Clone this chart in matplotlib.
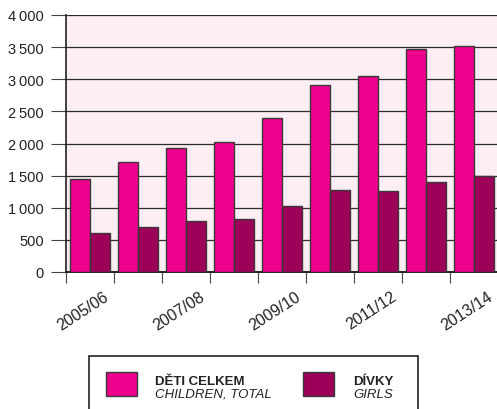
import numpy as np
import matplotlib
matplotlib.use("Agg")
import matplotlib.pyplot as plt
from matplotlib.patches import Rectangle

plt.rcParams['font.family'] = ['Liberation Sans', 'DejaVu Sans']

years = ["2005/06", "2006/07", "2007/08", "2008/09", "2009/10",
         "2010/11", "2011/12", "2012/13", "2013/14"]
children_total = [1440, 1712, 1925, 2023, 2402, 2916, 3050, 3476, 3512]
girls = [612, 700, 789, 820, 1027, 1271, 1266, 1406, 1489]

yticks = [0, 500, 1000, 1500, 2000, 2500, 3000, 3500, 4000]
ytick_labels = ["0", "500", "1\u2009000", "1\u2009500", "2\u2009000",
                "2\u2009500", "3\u2009000", "3\u2009500", "4\u2009000"]

PINK = "#EC008C"
PLUM = "#9C0058"
BG = "#FDEEF4"
EDGE = "#3a3a3a"

W, H = 497, 410
fig = plt.figure(figsize=(W / 100, H / 100), dpi=100)
ax = fig.add_axes([66 / W, 1 - 273 / H, 432 / W, 257 / H])
ax.set_facecolor(BG)

x = np.arange(len(years))
bw = 20 / 48
ax.bar(x - bw / 2, children_total, bw, color=PINK, edgecolor=EDGE, linewidth=1, zorder=3)
ax.bar(x + bw / 2, girls, bw, color=PLUM, edgecolor=EDGE, linewidth=1, zorder=3)

ax.set_xlim(-0.5, len(years) - 0.5)
ax.set_ylim(0, 4000)
ax.set_yticks(yticks)
ax.set_yticklabels(ytick_labels, fontsize=10.5, color="#222222")
ax.yaxis.grid(True, color="#2a2a2a", linewidth=0.9, zorder=1)
ax.set_axisbelow(True)

# category boundaries get the tick marks, labels sit under every other group
ax.set_xticks(np.arange(len(years)) - 0.5, minor=True)
ax.tick_params(axis='x', which='minor', length=8, width=0.8, color="#444444")
ax.set_xticks(x[::2] + 0.28)
ax.set_xticklabels(years[::2], rotation=33, ha='right', va='top',
                   rotation_mode='anchor', fontsize=11.5, color="#222222")
ax.tick_params(axis='x', which='major', length=0, pad=12)
ax.tick_params(axis='y', length=11, width=0.8, color="#444444", pad=5)

for s in ['top', 'right']:
    ax.spines[s].set_visible(False)
ax.spines['left'].set_color("#222222")
ax.spines['left'].set_linewidth(1.2)
ax.spines['bottom'].set_color("#222222")
ax.spines['bottom'].set_linewidth(1.4)

# legend box drawn by hand (two-line bold/italic labels)
def fx(px):
    return px / W

def fy(py):
    return 1 - py / H

fig.patches.append(Rectangle((fx(89), fy(420)), fx(418) - fx(89), fy(357) - fy(420),
                             transform=fig.transFigure, facecolor="white",
                             edgecolor="#222222", linewidth=1.2))
fig.patches.append(Rectangle((fx(106), fy(397)), 31 / W, 24 / H, transform=fig.transFigure,
                             facecolor=PINK, edgecolor=EDGE, linewidth=1))
fig.patches.append(Rectangle((fx(303), fy(397)), 31 / W, 24 / H, transform=fig.transFigure,
                             facecolor=PLUM, edgecolor=EDGE, linewidth=1))
fig.text(fx(155), fy(385), "DĚTI CELKEM", fontsize=9.5, fontweight='bold',
         color="#222222", va='baseline')
fig.text(fx(155), fy(398), "CHILDREN, TOTAL", fontsize=9.5, style='italic',
         color="#222222", va='baseline')
fig.text(fx(353), fy(385), "DÍVKY", fontsize=9.5, fontweight='bold',
         color="#222222", va='baseline')
fig.text(fx(353), fy(398), "GIRLS", fontsize=9.5, style='italic',
         color="#222222", va='baseline')

fig.savefig("out.png", dpi=100)
